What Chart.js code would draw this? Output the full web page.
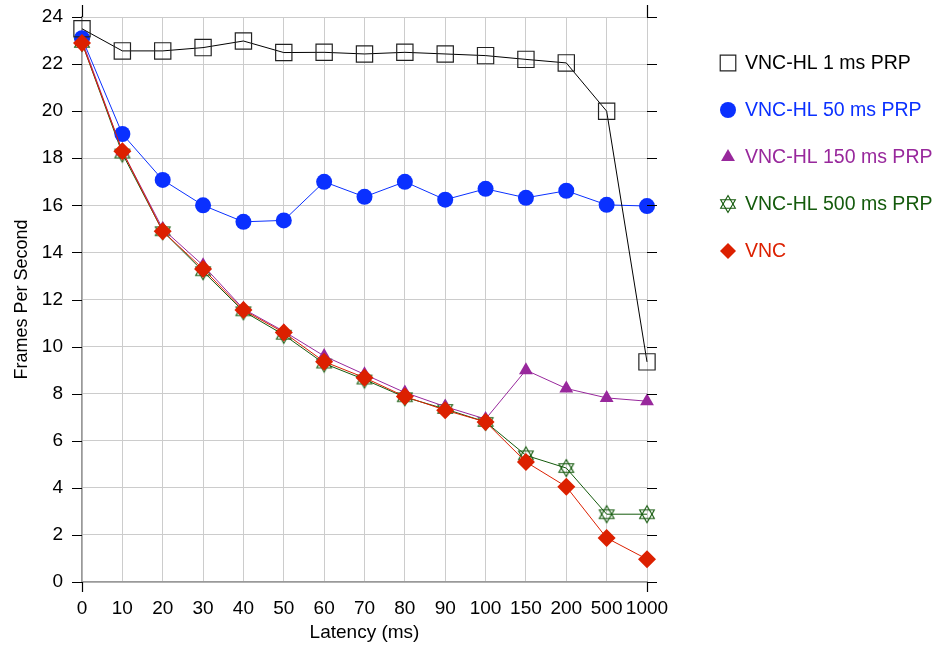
<!DOCTYPE html>
<html>
<head>
<meta charset="utf-8">
<script src="https://cdn.jsdelivr.net/npm/chart.js@4/dist/chart.umd.min.js"></script>
<style>
  html, body { margin: 0; padding: 0; background: #fff; }
  #wrap { width: 937px; height: 649px; position: relative; }
</style>
</head>
<body>
<div id="wrap"><canvas id="fpsChart" width="937" height="649"></canvas></div>
<script>
// Latency categories (ms)
const latencies = ['0', '10', '20', '30', '40', '50', '60', '70', '80', '90', '100', '150', '200', '500', '1000'];

// Frames per second per configuration
const hl1ms   = [23.5, 22.56, 22.56, 22.7, 22.98, 22.49, 22.5, 22.43, 22.5, 22.43, 22.36, 22.2, 22.05, 20.0, 9.35];
const hl50ms  = [23.1, 19.03, 17.08, 16.0, 15.3, 15.36, 17.0, 16.36, 17.0, 16.24, 16.7, 16.32, 16.62, 16.02, 15.97];
const hl150ms = [23.0, 18.3, 15.0, 13.45, 11.6, 10.65, 9.6, 8.82, 8.05, 7.45, 6.92, 9.0, 8.22, 7.82, 7.68];
const hl500ms = [22.9, 18.2, 14.9, 13.2, 11.5, 10.5, 9.28, 8.6, 7.85, 7.35, 6.8, 5.38, 4.84, 2.88, 2.88];
const vnc     = [22.9, 18.3, 14.9, 13.3, 11.55, 10.6, 9.36, 8.68, 7.88, 7.3, 6.8, 5.1, 4.05, 1.87, 0.97];

const yTicksMax = 24;
const yTickStep = 2;

const FONT = '"Liberation Sans", Arial, Helvetica, sans-serif';

// Star of David marker (outlined hexagram)
function makeHexagram(color) {
  const c = document.createElement('canvas');
  c.width = 20; c.height = 20;
  const g = c.getContext('2d');
  const cx = 10, cy = 10, r = 8.5;
  g.strokeStyle = color;
  g.lineWidth = 1.1;
  [-Math.PI / 2, Math.PI / 2].forEach(start => {
    g.beginPath();
    for (let i = 0; i < 3; i++) {
      const a = start + i * 2 * Math.PI / 3;
      const px = cx + r * Math.cos(a), py = cy + r * Math.sin(a);
      if (i === 0) g.moveTo(px, py); else g.lineTo(px, py);
    }
    g.closePath();
    g.stroke();
  });
  return c;
}

const cBlack = '#000000';
const cBlue = '#0a30ff';
const cPurple = '#98289c';
const cGreen = '#145a0c';
const cRed = '#dc2000';
const starImg = makeHexagram(cGreen);

const datasets = [
  { label: 'VNC-HL 1 ms PRP', data: hl1ms, borderColor: cBlack, backgroundColor: 'rgba(0,0,0,0)',
    pointStyle: 'rect', pointRadius: 11.5, pointBorderColor: '#222', pointBorderWidth: 1.2, order: 1 },
  { label: 'VNC-HL 50 ms PRP', data: hl50ms, borderColor: cBlue, backgroundColor: cBlue,
    pointStyle: 'circle', pointRadius: 8, pointBorderWidth: 0, order: 2 },
  { label: 'VNC-HL 150 ms PRP', data: hl150ms, borderColor: cPurple, backgroundColor: cPurple,
    pointStyle: 'triangle', pointRadius: 8, pointBorderWidth: 0, order: 3 },
  { label: 'VNC-HL 500 ms PRP', data: hl500ms, borderColor: cGreen, backgroundColor: cGreen,
    pointStyle: starImg, pointRadius: 10, order: 4 },
  { label: 'VNC', data: vnc, borderColor: cRed, backgroundColor: cRed,
    pointStyle: 'rectRot', pointRadius: 9, pointBorderWidth: 0, order: 0 }
];
datasets.forEach(d => { d.borderWidth = 1; d.tension = 0; d.fill = false; d.pointHoverRadius = d.pointRadius; });

// Outer tick marks, frame and the legend at the right
const framePlugin = {
  id: 'frame',
  afterDraw(chart) {
    const { ctx, chartArea: a, scales } = chart;
    const y = scales.y;
    ctx.save();
    ctx.strokeStyle = '#000';
    ctx.lineWidth = 1.2;
    ctx.beginPath();
    for (let v = 0; v <= yTicksMax; v += yTickStep) {
      const py = Math.round(y.getPixelForValue(v)) + 0.5;
      ctx.moveTo(a.left - 10, py); ctx.lineTo(a.left, py);
      ctx.moveTo(a.right, py); ctx.lineTo(a.right + 10, py);
    }
    [a.left, a.right].forEach(px => {
      const x = Math.round(px) + 0.5;
      ctx.moveTo(x, a.top - 12); ctx.lineTo(x, a.top);
      ctx.moveTo(x, a.bottom); ctx.lineTo(x, a.bottom + 10);
    });
    ctx.stroke();

    // legend
    const lx = a.right + 81;
    const ly0 = 63;
    const gap = 47;
    ctx.font = '19.5px ' + FONT;
    ctx.textBaseline = 'middle';
    ctx.textAlign = 'left';
    datasets.forEach((d, i) => {
      const yy = ly0 + i * gap;
      ctx.fillStyle = d.backgroundColor;
      ctx.strokeStyle = d.pointBorderColor || d.borderColor;
      ctx.lineWidth = d.pointBorderWidth || 1;
      const r = d.pointStyle === 'rect' ? 11 : (typeof d.pointStyle === 'string' ? 8 : 10);
      Chart.helpers.drawPoint(ctx, { pointStyle: d.pointStyle, radius: r, rotation: 0, borderWidth: d.pointBorderWidth || 0 }, lx, yy);
      ctx.fillStyle = d.borderColor;
      ctx.fillText(d.label, lx + 17, yy + 1);
    });
    ctx.restore();
  }
};

new Chart(document.getElementById('fpsChart'), {
  type: 'line',
  data: { labels: latencies, datasets: datasets },
  options: {
    responsive: false,
    animation: false,
    layout: { padding: { top: 17, right: 290, left: 0, bottom: 0 } },
    plugins: { legend: { display: false }, tooltip: { enabled: false } },
    scales: {
      x: {
        type: 'category',
        offset: false,
        grid: { color: '#cccccc', lineWidth: 1, drawTicks: false },
        border: { color: '#999999', width: 1.5 },
        ticks: { color: '#000', font: { family: FONT, size: 19 }, padding: 15, autoSkip: false, maxRotation: 0 },
        title: { display: true, text: 'Latency (ms)', color: '#000', font: { family: FONT, size: 19 }, padding: { top: 0, bottom: 5 } },
        afterFit(scale) { scale.height = 67; scale.paddingLeft = 0; scale.paddingRight = 0; }
      },
      y: {
        min: 0, max: yTicksMax,
        grid: { color: '#cccccc', lineWidth: 1, drawTicks: false },
        border: { color: '#999999', width: 1.5 },
        ticks: { stepSize: yTickStep, color: '#000', font: { family: FONT, size: 19 }, padding: 19 },
        title: { display: true, text: 'Frames Per Second', color: '#000', font: { family: FONT, size: 18 }, padding: { top: 11, bottom: 0 } },
        afterFit(scale) { scale.width = 82; scale.paddingTop = 0; scale.paddingBottom = 0; }
      }
    }
  },
  plugins: [framePlugin]
});
</script>
</body>
</html>
